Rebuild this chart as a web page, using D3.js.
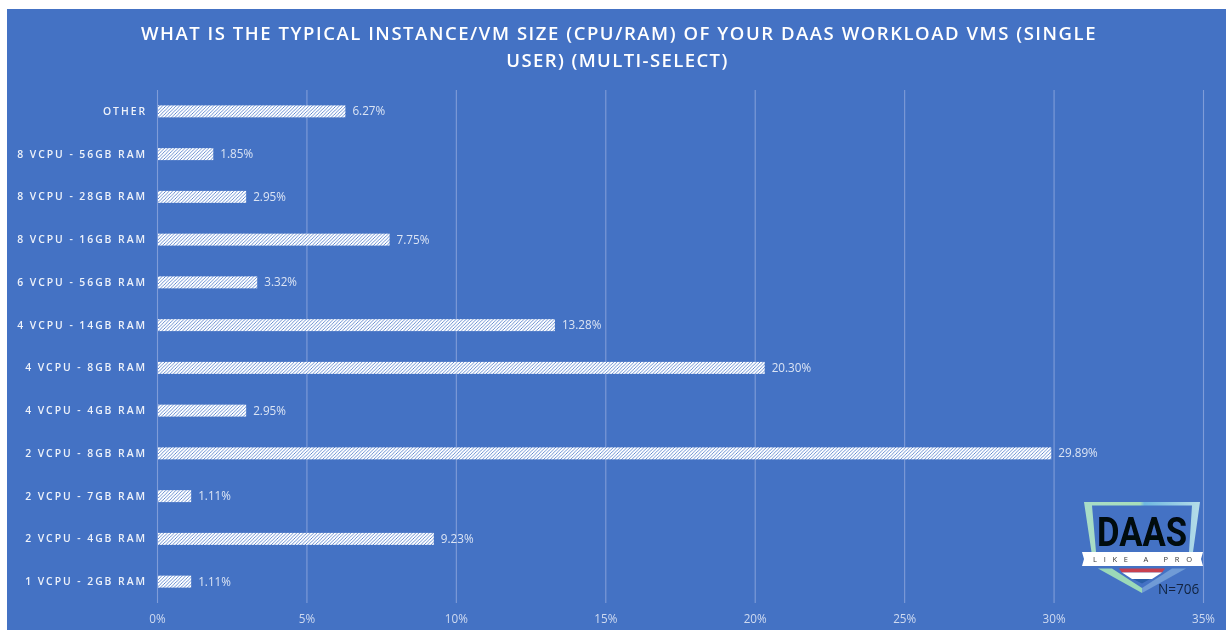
<!DOCTYPE html>
<html><head><meta charset="utf-8">
<script src="https://cdn.jsdelivr.net/npm/d3@7"></script>
<style>html,body{margin:0;background:#fff}svg{display:block;font-family:"Open Sans","Noto Sans",sans-serif}</style>
</head><body><svg id="c" width="1226" height="630"></svg>
<script>
const categories=["Other","8 vCPU - 56GB RAM","8 vCPU - 28GB RAM","8 vCPU - 16GB RAM","6 vCPU - 56GB RAM","4 vCPU - 14GB RAM","4 vCPU - 8GB RAM","4 vCPU - 4GB RAM","2 vCPU - 8GB RAM","2 vCPU - 7GB RAM","2 vCPU - 4GB RAM","1 vCPU - 2GB RAM"];
const values=[6.27,1.85,2.95,7.75,3.32,13.28,20.30,2.95,29.89,1.11,9.23,1.11];
const ticks=[0,5,10,15,20,25,30,35];
const titleLines=["WHAT IS THE TYPICAL INSTANCE/VM SIZE (CPU/RAM) OF YOUR DAAS WORKLOAD VMS (SINGLE","USER) (MULTI-SELECT)"];
const sampleSize="N=706";

const svg=d3.select("#c");
const defs=svg.append("defs");
const f=defs.append("filter").attr("id","soft").attr("filterUnits","userSpaceOnUse").attr("x",0).attr("y",0).attr("width",1226).attr("height",630);
f.append("feGaussianBlur").attr("stdDeviation",0.4);
svg.append("rect").attr("x",7).attr("y",9).attr("width",1219).attr("height",621).attr("fill","#4472c4");
const root=svg.append("g").attr("filter","url(#soft)");

const p=defs.append("pattern").attr("id","hatch").attr("patternUnits","userSpaceOnUse").attr("width",3.4).attr("height",3.4);
p.append("rect").attr("width",3.4).attr("height",3.4).attr("fill","#ffffff");
p.append("path").attr("d","M-1,1L1,-1M0,3.4L3.4,0M2.4,4.4L4.4,2.4").attr("stroke","#4472c4").attr("stroke-width",0.8);

const x=d3.scaleLinear().domain([0,35]).range([157.5,1203.5]);
const y=d3.scaleBand().domain(categories).range([90,603]).paddingInner(0.72).paddingOuter(0.36);

root.append("g").selectAll("line").data(ticks).join("line")
  .attr("x1",d=>x(d)).attr("x2",d=>x(d)).attr("y1",90).attr("y2",603)
  .attr("stroke","#7f9cd8").attr("stroke-width",1.1);

root.append("g").selectAll("text").data(titleLines).join("text")
  .attr("x",(d,i)=>i?617.5:619).attr("y",(d,i)=>40+i*26.5).attr("text-anchor","middle")
  .attr("fill","#fff").attr("font-size",18.5).attr("font-weight",600).attr("letter-spacing",(d,i)=>i?1.4:1.55).text(d=>d);

root.append("g").selectAll("rect").data(values).join("rect")
  .attr("x",x(0)+0.5).attr("y",(d,i)=>y(categories[i])).attr("width",d=>x(d)-x(0)).attr("height",y.bandwidth())
  .attr("fill","url(#hatch)");

root.append("g").selectAll("text").data(values).join("text")
  .attr("x",d=>x(d)+7.5).attr("y",(d,i)=>y(categories[i])+y.bandwidth()/2+4)
  .attr("fill","#dbe4f4").attr("font-size",11.7).text(d=>d.toFixed(2)+"%");

root.append("g").selectAll("text").data(categories).join("text")
  .attr("x",147).attr("y",d=>y(d)+y.bandwidth()/2+3.5).attr("text-anchor","end")
  .attr("fill","#eef2fa").attr("font-size",10.4).attr("font-weight",600).attr("letter-spacing",1.95).text(d=>d.toUpperCase());

root.append("g").selectAll("text").data(ticks).join("text")
  .attr("x",d=>x(d)).attr("y",623).attr("text-anchor","middle")
  .attr("fill","#cfdaf0").attr("font-size",11.7).text(d=>d+"%");

// logo
const g=root.append("g");
const grad=defs.append("linearGradient").attr("id","lg");
grad.append("stop").attr("offset","0").attr("stop-color","#a8dcc8");
grad.append("stop").attr("offset","0.48").attr("stop-color","#a9dfb9");
grad.append("stop").attr("offset","0.52").attr("stop-color","#6fb8e0");
grad.append("stop").attr("offset","1").attr("stop-color","#b5dde8");
g.append("path").attr("d","M1084,502H1200L1193,552H1189L1192,505.5H1092L1096,552H1091.5Z").attr("fill","url(#lg)");
g.append("text").attr("x",1142).attr("y",545.5).attr("text-anchor","middle").attr("font-family","'Liberation Sans Narrow','Roboto',sans-serif").attr("font-size",40).attr("font-weight",700).attr("textLength",90).attr("lengthAdjust","spacingAndGlyphs").attr("fill","#05070d").text("DAAS");
g.append("path").attr("d","M1082,552H1203L1201,559L1203,566H1082L1084,559Z").attr("fill","#fff");
g.append("text").attr("x",1093).attr("y",562).attr("font-size",7.5).attr("textLength",99).attr("lengthAdjust","spacing").attr("fill","#333").text("LIKE A PRO");
g.append("path").attr("d","M1098,568.5H1112L1142,588V593Z").attr("fill","#9bd9b8");
g.append("path").attr("d","M1142,593V588L1172,568.5H1186Z").attr("fill","#6f9bd6");
g.append("path").attr("d","M1119,568.5H1165L1162,572.5H1122Z").attr("fill","#c8404f");
g.append("path").attr("d","M1122,572.5H1162L1152,579H1132Z").attr("fill","#fff");
g.append("path").attr("d","M1133,579H1150L1142,583.5Z").attr("fill","#2b5ea8");
root.append("text").attr("x",1158).attr("y",594).attr("fill","#12233f").attr("font-size",13.6).text(sampleSize);
</script></body></html>
